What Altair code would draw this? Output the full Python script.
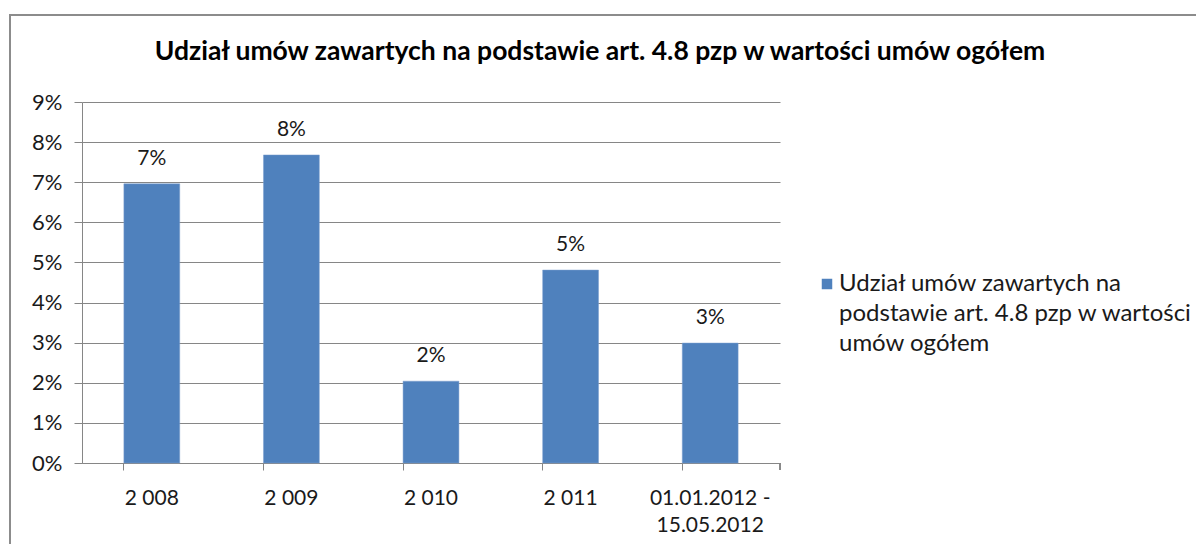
import altair as alt
import pandas as pd

categories = ["2 008", "2 009", "2 010", "2 011", "01.01.2012 -|15.05.2012"]
values = [0.0696, 0.0768, 0.0204, 0.0481, 0.0299]
series_name = "Udział umów zawartych na podstawie art. 4.8 pzp w wartości umów ogółem"
legend_lines = "Udział umów zawartych na\npodstawie art. 4.8 pzp w wartości\numów ogółem"
title_text = "Udział umów zawartych na podstawie art. 4.8 pzp w wartości umów ogółem"
y_ticks = [0, 0.01, 0.02, 0.03, 0.04, 0.05, 0.06, 0.07, 0.08, 0.09]

FONT = "Lato"
BAR = "#4F81BD"
GRID = "#868686"
TXT = "#1a1a1a"

df = pd.DataFrame({"cat": categories, "val": values, "series": series_name})

x_enc = alt.X("cat:N", sort=categories,
              scale=alt.Scale(paddingInner=0.6, paddingOuter=0.3),
              axis=alt.Axis(title=None, labelAngle=0, bandPosition=0,
                            labelExpr="split(datum.label, '|')",
                            labelFont=FONT, labelFontSize=21, labelColor=TXT,
                            labelPadding=17, labelLineHeight=27,
                            tickSize=7, tickColor=GRID, domainColor=GRID,
                            labelBaseline="top", grid=False))
y_enc = alt.Y("val:Q", scale=alt.Scale(domain=[0, 0.09], nice=False),
              axis=alt.Axis(title=None, values=y_ticks, format=".0%",
                            labelFont=FONT, labelFontSize=22, labelColor=TXT,
                            labelPadding=12, tickSize=8, tickColor=GRID,
                            domainColor=GRID, gridColor=GRID, grid=True))

bars = alt.Chart(df).mark_bar(color=BAR, stroke="#7a9fcf", strokeWidth=0.5).encode(x=x_enc, y=y_enc)

labels = alt.Chart(df).mark_text(font=FONT, fontSize=21, color=TXT, baseline="bottom", dy=-15).encode(
    x=alt.X("cat:N", sort=categories), y="val:Q", text=alt.Text("val:Q", format=".0%"))

end_tick = alt.Chart(df).mark_rule(color=GRID).encode(
    x=alt.value(698), y=alt.value(361), y2=alt.value(368))

title_df = pd.DataFrame({"t": [title_text]})
title = alt.Chart(title_df).mark_text(font=FONT, fontSize=26.5, fontWeight="bold", color="black",
                                      baseline="middle", align="center").encode(
    x=alt.value(518), y=alt.value(-50), text="t:N")

leg_sym = alt.Chart(title_df).mark_square(color=BAR, size=110, opacity=1).encode(
    x=alt.value(745), y=alt.value(182))
leg_df = pd.DataFrame({"t": [legend_lines]})
leg_txt = alt.Chart(leg_df).mark_text(font=FONT, fontSize=24, color=TXT, align="left",
                                      baseline="middle", lineBreak="\n", lineHeight=30).encode(
    x=alt.value(757), y=alt.value(182), text="t:N")

frame = alt.Chart(title_df).mark_rect(fill=None, stroke="#8c8c8c", strokeWidth=2).encode(
    x=alt.value(-72), x2=alt.value(1130), y=alt.value(-87), y2=alt.value(480))

chart = alt.layer(frame, bars, labels, end_tick, title, leg_sym, leg_txt).properties(
    width=698, height=361,
    autosize=alt.AutoSizeParams(type="none"),
    padding={"left": 74, "top": 94, "right": 416, "bottom": 81},
    background="white",
).configure_view(stroke=None)

chart.save("out.html", embed_options={"renderer": "svg", "actions": False})
